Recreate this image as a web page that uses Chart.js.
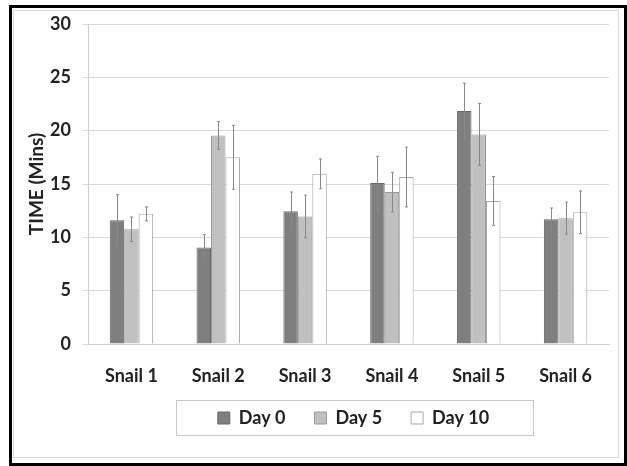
<!DOCTYPE html>
<html>
<head>
<meta charset="utf-8">
<script src="https://cdn.jsdelivr.net/npm/chart.js@4/dist/chart.umd.min.js"></script>
<style>
  html, body { margin: 0; padding: 0; background: #fff; }
  #wrap { position: relative; width: 627px; height: 466px; }
</style>
</head>
<body>
<div id="wrap"><canvas id="chart"></canvas></div>
<script>
var snails = ["Snail 1", "Snail 2", "Snail 3", "Snail 4", "Snail 5", "Snail 6"];
var day0 = [11.6, 9.05, 12.45, 15.1, 21.85, 11.7];
var day5 = [10.75, 19.55, 11.95, 14.25, 19.65, 11.8];
var day10 = [12.2, 17.5, 15.95, 15.65, 13.4, 12.35];
var day0Err = [2.4, 1.2, 1.8, 2.5, 2.6, 1.05];
var day5Err = [1.15, 1.3, 2.0, 1.85, 2.9, 1.5];
var day10Err = [0.65, 3.0, 1.4, 2.8, 2.3, 2.0];
var yTicks = [0, 5, 10, 15, 20, 25, 30];

var FONT = "Lato";
var LEGEND_GAP = "\u2003\u2003"; // Excel leaves wide gaps between legend entries

var framePlugin = {
    id: "frame",
    beforeDraw: function (chart) {
        var ctx = chart.ctx;
        ctx.save();
        ctx.fillStyle = "#fff";
        ctx.fillRect(0, 0, chart.width, chart.height);
        ctx.strokeStyle = "#000";
        ctx.lineWidth = 3;
        ctx.strokeRect(10.5, 6.5, 615, 458);
        ctx.strokeStyle = "#d9d9d9";
        ctx.lineWidth = 1;
        ctx.strokeRect(13.5, 10.5, 605, 447);
        ctx.restore();
    },
    afterLayout: function (chart) {
        // the legend sits right of centre in the original
        chart.legend.left += 50;
        chart.legend.right += 50;
    },
    afterDraw: function (chart) {
        var boxes = chart.legend.legendHitBoxes;
        if (!boxes || !boxes.length) return;
        var left = Math.min.apply(null, boxes.map(b => b.left));
        var right = Math.max.apply(null, boxes.map(b => b.left + b.width));
        var mid = boxes[0].top + boxes[0].height / 2;
        var ctx = chart.ctx;
        ctx.save();
        ctx.strokeStyle = "#c8c8c8";
        ctx.lineWidth = 1;
        ctx.strokeRect(Math.round(left - 42) + 0.5, Math.round(mid - 18) + 0.5, Math.round(right - left + 59), 35);
        ctx.restore();
    },
};

var errorBarPlugin = {
    id: "errorBars",
    afterDatasetsDraw: function (chart) {
        var ctx = chart.ctx;
        var y = chart.scales.y;
        ctx.save();
        ctx.strokeStyle = "#888888";
        ctx.lineWidth = 1;
        chart.data.datasets.forEach(function (ds, i) {
            var meta = chart.getDatasetMeta(i);
            meta.data.forEach(function (bar, j) {
                var v = ds.data[j], e = ds.errors[j];
                var x = Math.round(bar.x) + 0.5;
                var top = y.getPixelForValue(v + e);
                var bot = y.getPixelForValue(v - e);
                ctx.beginPath();
                ctx.moveTo(x, top);
                ctx.lineTo(x, bot);
                ctx.moveTo(x - 1.5, top);
                ctx.lineTo(x + 1.5, top);
                ctx.moveTo(x - 1.5, bot);
                ctx.lineTo(x + 1.5, bot);
                ctx.stroke();
            });
        });
        ctx.restore();
    },
};

new Chart(document.getElementById("chart"), {
    type: "bar",
    data: {
        labels: snails,
        datasets: [
            { label: "Day 0", data: day0, errors: day0Err, backgroundColor: "#7f7f7f", borderColor: "#666666", borderWidth: 1 },
            { label: "Day 5", data: day5, errors: day5Err, backgroundColor: "#c0c0c0", borderColor: "#999999", borderWidth: 1 },
            { label: "Day 10", data: day10, errors: day10Err, backgroundColor: "#ffffff", borderColor: "#a6a6a6", borderWidth: 1 },
        ],
    },
    options: {
        responsive: true,
        maintainAspectRatio: false,
        animation: false,
        categoryPercentage: 0.5,
        barPercentage: 1.0,
        layout: {
            padding: { left: 25, right: 18, top: 24, bottom: 29 },
        },
        plugins: {
            legend: {
                position: "bottom",
                labels: {
                    color: "#222",
                    font: { family: FONT, size: 18, weight: "bold" },
                    boxWidth: 12,
                    boxHeight: 12,
                    padding: 2,
                    generateLabels: function (chart) {
                        var items = Chart.defaults.plugins.legend.labels.generateLabels(chart);
                        items.forEach(function (it) { it.text = it.text + LEGEND_GAP; });
                        return items;
                    },
                },
            },
            tooltip: { enabled: false },
        },
        scales: {
            x: {
                grid: { display: false, drawTicks: false },
                border: { color: "#d0d0d0" },
                afterFit: function (scale) {
                    scale.height = 63;
                },
                ticks: {
                    color: "#222",
                    font: { family: FONT, size: 18, weight: "bold" },
                    padding: 21,
                },
            },
            y: {
                min: 0,
                max: 30,
                afterBuildTicks: function (scale) {
                    scale.ticks = yTicks.map(v => ({ value: v }));
                },
                afterFit: function (scale) {
                    scale.width = 63;
                },
                grid: { color: "#d9d9d9", tickLength: 5 },
                border: { color: "#d0d0d0" },
                ticks: {
                    color: "#222",
                    font: { family: FONT, size: 18, weight: "bold" },
                    padding: 12,
                },
                title: {
                    display: true,
                    text: "TIME (Mins)",
                    color: "#222",
                    font: { family: FONT, size: 19, weight: "bold" },
                    padding: { top: 0, bottom: 0 },
                },
            },
        },
    },
    plugins: [framePlugin, errorBarPlugin],
});
</script>
</body>
</html>
